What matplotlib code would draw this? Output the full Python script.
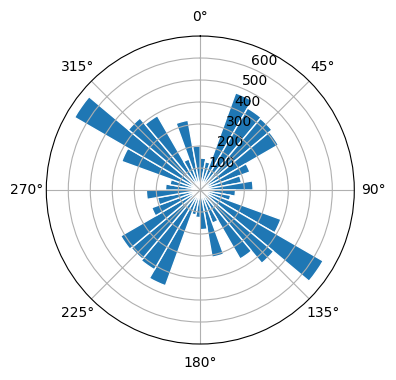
import numpy as np
import matplotlib
matplotlib.use('Agg')
import matplotlib.pyplot as plt

# direction bins (degrees, bin centres) and counts per bin
directions = np.arange(5, 360, 10)
counts = [145, 130, 470, 430, 425, 410, 240, 190, 240,
          160, 140, 390, 645, 435, 362, 160, 310, 180,
          125, 115, 463, 418, 410, 418, 235, 197, 245,
          158, 140, 380, 660, 427, 390, 150, 322, 200]
r_ticks = [100, 200, 300, 400, 500, 600]

fig = plt.figure(figsize=(3.96, 3.8), dpi=100)
ax = fig.add_axes([0.1169, 0.0947, 0.7778, 0.8105], projection='polar')
ax.set_theta_zero_location('N')
ax.set_theta_direction(-1)

theta = np.deg2rad(directions)
ax.bar(theta, counts, width=np.deg2rad(10), bottom=0,
       color='#1f77b4', edgecolor='white', linewidth=1)

ax.set_rticks(r_ticks)
ax.set_ylim(0, 700)

fig.savefig('out.png', dpi=100)
